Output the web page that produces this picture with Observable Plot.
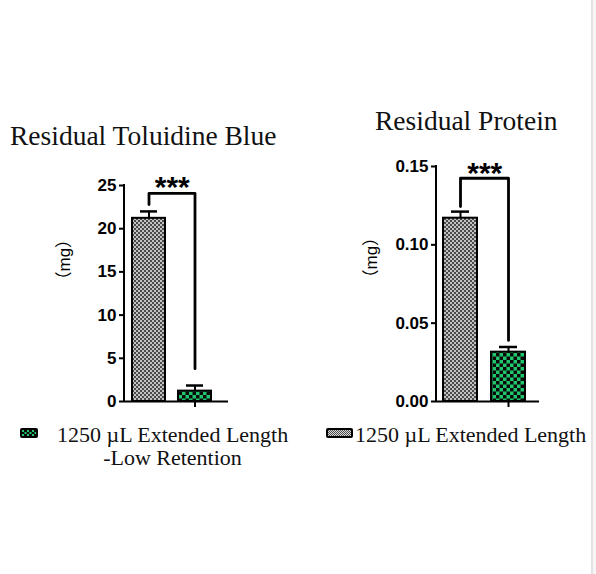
<!DOCTYPE html>
<html>
<head>
<meta charset="utf-8">
<script src="https://cdn.jsdelivr.net/npm/d3@7"></script>
<script src="https://cdn.jsdelivr.net/npm/@observablehq/plot@0.6"></script>
<style>
  html, body { margin: 0; padding: 0; background: #ffffff; }
  #page { position: relative; width: 596px; height: 574px; overflow: hidden; background: #ffffff; }
  .abs { position: absolute; }
  .serif { font-family: "Liberation Serif", "Times New Roman", serif; color: #111; white-space: nowrap; }
  .title { font-size: 27.5px; line-height: 27.5px; }
  .legend { font-size: 22px; line-height: 23.5px; }
  svg.tickfix g[aria-label="y-axis tick label"] text { font-size: 17px; }
</style>
</head>
<body>
<div id="page"></div>
<script>
// ---------- data ----------
const groups = ["1250 µL Extended Length", "1250 µL Extended Length-Low Retention"];
const titles = ["Residual Toluidine Blue", "Residual Protein"];
const yLabel = "（mg）";
const significance = "***";

const toluidineMean = [21.2, 1.2];
const toluidineSem = [0.8, 0.65];
const toluidineTicks = [0, 5, 10, 15, 20, 25];
const toluidineBracket = [22.8, 24.1, 3.8]; // left end, top, right end

const proteinMean = [0.117, 0.0315];
const proteinSem = [0.0042, 0.0033];
const proteinTicks = [0, 0.05, 0.10, 0.15];
const proteinBracket = [0.1244, 0.1425, 0.039];

// ---------- helpers ----------
function patternDefs(id) {
  return () => {
    const defs = d3.create("svg:defs");
    const g = defs.append("pattern").attr("id", id + "-gray")
      .attr("patternUnits", "userSpaceOnUse").attr("width", 4).attr("height", 4);
    g.append("rect").attr("width", 4).attr("height", 4).attr("fill", "#c2c2c2");
    g.append("rect").attr("width", 2).attr("height", 2).attr("fill", "#4a4a4a");
    g.append("rect").attr("x", 2).attr("y", 2).attr("width", 2).attr("height", 2).attr("fill", "#4a4a4a");
    const p = defs.append("pattern").attr("id", id + "-green")
      .attr("patternUnits", "userSpaceOnUse").attr("width", 7).attr("height", 7);
    p.append("rect").attr("width", 7).attr("height", 7).attr("fill", "#1fc66b");
    p.append("rect").attr("width", 3.5).attr("height", 3.5).attr("fill", "#0a0a0a");
    p.append("rect").attr("x", 3.5).attr("y", 3.5).attr("width", 3.5).attr("height", 3.5).attr("fill", "#0a0a0a");
    return defs.node();
  };
}

function axisLine(yTop) {
  return (index, scales, values, dims) => {
    const l = d3.create("svg:line")
      .attr("x1", dims.marginLeft).attr("x2", dims.marginLeft)
      .attr("y1", scales.y(0)).attr("y2", scales.y(yTop))
      .attr("stroke", "black").attr("stroke-width", 2).attr("stroke-linecap", "square");
    return l.node();
  };
}

function chart(o) {
  const rows = groups.map((g, i) => ({group: g, value: o.mean[i], sem: o.sem[i]}));
  const br = [
    {g: groups[0], v: o.bracket[0]},
    {g: groups[0], v: o.bracket[1]},
    {g: groups[1], v: o.bracket[1]},
    {g: groups[1], v: o.bracket[2]}
  ];
  const yTop = o.ticks[o.ticks.length - 1];
  return Plot.plot({
    width: o.width, height: o.height,
    marginTop: o.marginTop, marginBottom: 19, marginLeft: o.marginLeft, marginRight: o.marginRight,
    x: {domain: groups, range: o.xRange, padding: o.padding, axis: null},
    y: {domain: [0, yTop], axis: null},
    className: "tickfix",
    style: {fontFamily: "'Liberation Sans', Arial, sans-serif", background: "transparent", overflow: "visible", color: "black"},
    marks: [
      patternDefs(o.id),
      Plot.barY(rows.slice(0, 1), {x: "group", y: "value", fill: `url(#${o.id}-gray)`, stroke: "black", strokeWidth: 2}),
      Plot.barY(rows.slice(1), {x: "group", y: "value", fill: `url(#${o.id}-green)`, stroke: "black", strokeWidth: 2}),
      Plot.ruleX(rows, {x: "group", y1: "value", y2: d => d.value + d.sem, strokeWidth: 2}),
      Plot.tickY(rows, {x: "group", y: d => d.value + d.sem, strokeWidth: 2.5, insetLeft: 8, insetRight: 8}),
      Plot.line(br, {x: "g", y: "v", strokeWidth: 2.8}),
      Plot.text([significance], {x: () => groups[0], y: () => o.bracket[1], text: d => d,
        dx: o.starDx, dy: o.starDy, lineAnchor: "bottom", fontSize: 30, fontWeight: "bold",
        fontFamily: "'Liberation Sans', Arial, sans-serif", letterSpacing: "1.5px"}),
      Plot.ruleY([0], {strokeWidth: 2}),
      axisLine(yTop),
      Plot.axisY({ticks: o.ticks, tickFormat: o.fmt, tickSize: 5, tickPadding: 3, fontSize: 17,
        fontWeight: "bold", strokeWidth: 2, label: null}),
      Plot.axisX({ticks: [groups[1]], tickFormat: () => "", tickSize: 6, strokeWidth: 2, label: null}),
      Plot.text([yLabel], {frameAnchor: "left", rotate: -90, text: d => d, dx: o.labelDx, dy: o.labelDy,
        fontSize: 17, fontFamily: "'Liberation Sans', 'Noto Sans CJK SC', sans-serif"})
    ]
  });
}

// ---------- build page ----------
const page = document.getElementById("page");

const left = chart({
  id: "tol", mean: toluidineMean, sem: toluidineSem, ticks: toluidineTicks, bracket: toluidineBracket,
  fmt: d3.format("d"), width: 290, height: 270, marginTop: 35, marginLeft: 124, marginRight: 62,
  xRange: [119, 225], padding: 0.28, starDx: 23.25, starDy: 4, labelDx: -60, labelDy: -5
});
left.style.position = "absolute"; left.style.left = "0px"; left.style.top = "150px";
page.appendChild(left);

const right = chart({
  id: "pro", mean: proteinMean, sem: proteinSem, ticks: proteinTicks, bracket: proteinBracket,
  fmt: d3.format(".2f"), width: 296, height: 270, marginTop: 16, marginLeft: 136, marginRight: 57,
  xRange: [128.5, 240], padding: 0.3, starDx: 24.25, starDy: 4.5, labelDx: -65, labelDy: 2.5
});
right.style.position = "absolute"; right.style.left = "300px"; right.style.top = "150px";
page.appendChild(right);

function addDiv(cls, css, html) {
  const d = document.createElement("div");
  d.className = cls;
  Object.assign(d.style, css);
  d.innerHTML = html;
  page.appendChild(d);
  return d;
}

addDiv("abs serif title", {left: "10px", top: "122px"}, titles[0]);
addDiv("abs serif title", {left: "375px", top: "107px"}, titles[1]);

// legend swatches
function swatch(kind, w, h) {
  const s = d3.create("svg").attr("width", w).attr("height", h);
  const defs = s.append("defs");
  const pid = "sw-" + kind;
  if (kind === "green") {
    const p = defs.append("pattern").attr("id", pid).attr("patternUnits", "userSpaceOnUse")
      .attr("x", 2).attr("y", 2).attr("width", 5).attr("height", 6);
    p.append("rect").attr("width", 5).attr("height", 6).attr("fill", "#0a0a0a");
    p.append("rect").attr("x", 0).attr("y", 0).attr("width", 2).attr("height", 2).attr("fill", "#1fc66b");
    p.append("rect").attr("x", 2.5).attr("y", 2).attr("width", 2).attr("height", 2).attr("fill", "#1fc66b");
    p.append("rect").attr("x", 0).attr("y", 4).attr("width", 2).attr("height", 2).attr("fill", "#1fc66b");
  } else {
    const p = defs.append("pattern").attr("id", pid).attr("patternUnits", "userSpaceOnUse").attr("width", 2).attr("height", 2);
    p.append("rect").attr("width", 2).attr("height", 2).attr("fill", "#d8d8d8");
    p.append("rect").attr("width", 1).attr("height", 1).attr("fill", "#4e4e4e");
    p.append("rect").attr("x", 1).attr("y", 1).attr("width", 1).attr("height", 1).attr("fill", "#4e4e4e");
  }
  s.append("rect").attr("width", w).attr("height", h).attr("rx", 2).attr("fill", "#000");
  s.append("rect").attr("x", 2).attr("y", 2).attr("width", w - 4).attr("height", h - 4).attr("fill", `url(#${pid})`);
  return s.node();
}
const sw1 = swatch("green", 18, 10);
Object.assign(sw1.style, {position: "absolute", left: "20px", top: "428px"});
page.appendChild(sw1);
const sw2 = swatch("gray", 27, 10);
Object.assign(sw2.style, {position: "absolute", left: "326px", top: "428px"});
page.appendChild(sw2);

const g1parts = groups[1].split("-");
addDiv("abs serif legend", {left: "57px", top: "422.5px", width: "231px", textAlign: "center"},
  g1parts[0] + "<br>-" + g1parts[1]);
addDiv("abs serif legend", {left: "355px", top: "422.5px"}, groups[0]);

addDiv("abs", {left: "591px", top: "0px", width: "2px", height: "574px", background: "#e2e2e2"}, "");
addDiv("abs", {left: "593px", top: "0px", width: "3px", height: "574px", background: "#f6f6f6"}, "");
</script>
</body>
</html>
